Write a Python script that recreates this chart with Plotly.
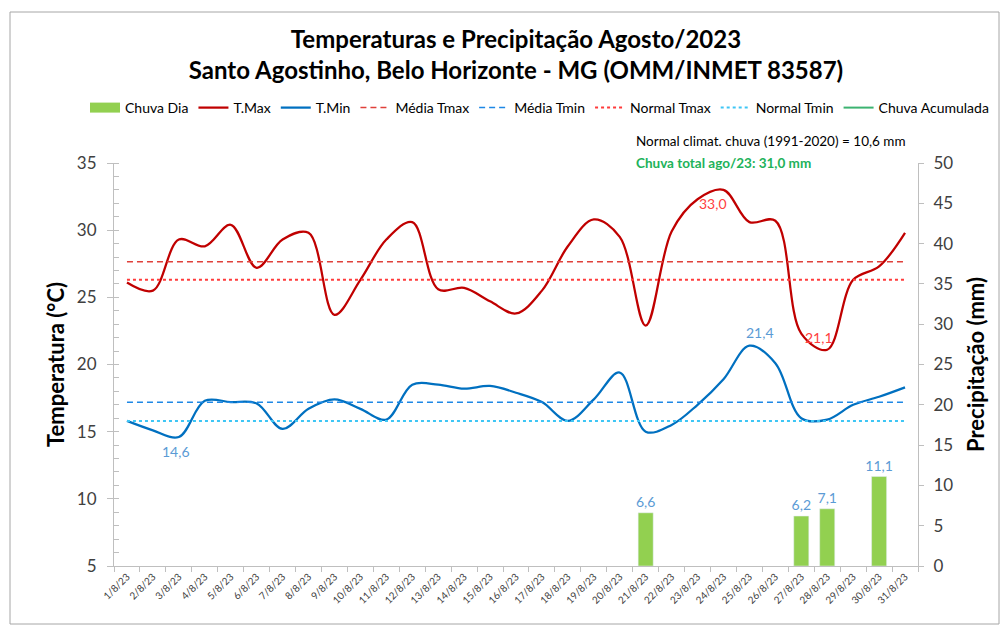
import plotly.graph_objects as go

days = [f"{d}/8/23" for d in range(1, 32)]
tmax = [26.1, 25.5, 29.3, 28.8, 30.4, 27.2, 29.3, 29.8, 23.7, 26.3, 29.3, 30.6, 25.6, 25.7, 24.7,
        23.8, 25.5, 28.8, 30.8, 29.5, 22.9, 29.9, 32.3, 33.0, 30.6, 30.7, 22.3, 21.1, 26.3, 27.3, 29.8]
tmin = [15.8, 15.1, 14.6, 17.3, 17.2, 17.1, 15.2, 16.7, 17.4, 16.7, 15.9, 18.5, 18.5, 18.2, 18.4,
        17.9, 17.2, 15.8, 17.4, 19.4, 15.0, 15.5, 17.0, 18.9, 21.4, 20.1, 16.0, 15.9, 17.0, 17.6, 18.3]
rain = [None] * 31
rain_days = {21: 6.6, 27: 6.2, 28: 7.1, 30: 11.1}
for d, v in rain_days.items():
    rain[d - 1] = v
normal_tmax = 26.3
normal_tmin = 15.8
normal_rain = 10.6

media_tmax = sum(tmax) / len(tmax)
media_tmin = sum(tmin) / len(tmin)
rain_total = sum(v for v in rain if v)

FONT = "Lato"
W, H = 1008, 637
L, R, T, B = 114, 918, 163, 566

def px(x):
    return (x - L) / (R - L)

def py(y):
    return (B - y) / (B - T)

def fmt(v):
    return f"{v:.1f}".replace(".", ",")

fig = go.Figure()
fig.add_trace(go.Bar(x=days, y=rain, name="Chuva Dia", yaxis="y2", marker_color="#92D050",
                     width=0.58, text=[fmt(v) if v else "" for v in rain],
                     textposition="outside", constraintext="none",
                     textfont=dict(color="#5B9BD5", size=14, family=FONT),
                     cliponaxis=False, showlegend=False))
# legend swatch for the bars (wide rectangle like the original)
fig.add_trace(go.Scatter(x=days, y=[None] * 31, name="Chuva Dia", mode="lines", yaxis="y2",
                         line=dict(color="#92D050", width=10)))
fig.add_trace(go.Scatter(x=days, y=tmax, name="T.Max", mode="lines",
                         line=dict(color="#C00000", width=2.25, shape="spline", smoothing=1)))
fig.add_trace(go.Scatter(x=days, y=tmin, name="T.Min", mode="lines",
                         line=dict(color="#0070C0", width=2.25, shape="spline", smoothing=1)))
fig.add_trace(go.Scatter(x=days, y=[media_tmax] * 31, name="Média Tmax", mode="lines",
                         line=dict(color="#E0403A", width=1.5, dash="6px,4px")))
fig.add_trace(go.Scatter(x=days, y=[media_tmin] * 31, name="Média Tmin", mode="lines",
                         line=dict(color="#1E88E5", width=1.5, dash="6px,4px")))
fig.add_trace(go.Scatter(x=days, y=[normal_tmax] * 31, name="Normal Tmax", mode="lines",
                         line=dict(color="#FF3B3B", width=2, dash="dot")))
fig.add_trace(go.Scatter(x=days, y=[normal_tmin] * 31, name="Normal Tmin", mode="lines",
                         line=dict(color="#3EC6F5", width=2, dash="dot")))
fig.add_trace(go.Scatter(x=days, y=[None] * 31, name="Chuva Acumulada", mode="lines", yaxis="y2",
                         line=dict(color="#3CB371", width=2)))

labels = [
    (days[2], tmin[2], "#5B9BD5", -3, -14),
    (days[23], tmax[23], "#FF4040", -10, -14),
    (days[27], tmax[27], "#FF4040", -8, 12),
    (days[24], tmin[24], "#5B9BD5", 11, 13),
]
for x, y, c, xs, ys in labels:
    fig.add_annotation(x=x, y=y, text=fmt(y), showarrow=False, xshift=xs, yshift=ys,
                       font=dict(color=c, size=14, family=FONT))

fig.add_annotation(xref="paper", yref="paper", x=px(634), y=py(141), xanchor="left", yanchor="middle",
                   text=f"Normal climat. chuva (1991-2020) = {fmt(normal_rain)} mm", showarrow=False,
                   font=dict(size=13.5, color="#000000", family=FONT))
fig.add_annotation(xref="paper", yref="paper", x=px(634), y=py(163), xanchor="left", yanchor="middle",
                   text=f"<b>Chuva total ago/23: {fmt(rain_total)} mm</b>", showarrow=False,
                   font=dict(size=13.5, color="#21B25A", family=FONT))

fig.add_shape(type="rect", xref="paper", yref="paper", x0=px(10), x1=px(999), y0=py(624), y1=py(12),
              line=dict(color="#A6A6A6", width=1), fillcolor="rgba(0,0,0,0)", layer="below")

axis_line = "#BFBFBF"
fig.update_layout(
    width=W, height=H,
    margin=dict(l=L, r=W - R, t=T, b=H - B, pad=0),
    paper_bgcolor="white", plot_bgcolor="white",
    font=dict(family=FONT, color="#404040"),
    title=dict(text="<b>Temperaturas e Precipitação Agosto/2023<br>Santo Agostinho, Belo Horizonte - MG (OMM/INMET 83587)</b>",
               x=0.5, xref="paper", xanchor="center", y=1 - 48 / H, yref="container", yanchor="middle",
               font=dict(size=24, color="#000000", family=FONT), automargin=False),
    legend=dict(orientation="h", x=px(85), y=py(108), xanchor="left", yanchor="middle",
                font=dict(size=14, color="#000000", family=FONT), bgcolor="rgba(0,0,0,0)",
                itemwidth=30, tracegroupgap=0),
    showlegend=True,
    xaxis=dict(type="category", showline=True, linecolor=axis_line, linewidth=1, ticks="outside",
               tickson="boundaries", ticklen=5, tickcolor=axis_line, tickangle=-45,
               tickfont=dict(size=10, color="#404040", family=FONT), showgrid=False, zeroline=False,
               range=[-0.5, 30.5], automargin=False),
    yaxis=dict(range=[5, 35], dtick=5, showline=True, linecolor=axis_line, linewidth=1,
               ticks="outside", ticklen=6, tickcolor=axis_line, showgrid=False, zeroline=False,
               minor=dict(dtick=1, ticks="inside", ticklen=5, tickcolor=axis_line),
               tickfont=dict(size=17, color="#404040", family=FONT), ticklabelstandoff=7,
               automargin=False,
               title=dict(text="<b>Temperatura (°C)</b>", standoff=6,
                          font=dict(size=22, color="#000000", family=FONT))),
    yaxis2=dict(range=[0, 50], dtick=5, overlaying="y", side="right", showline=True,
                linecolor=axis_line, linewidth=1, ticks="outside", ticklen=5, tickcolor=axis_line,
                showgrid=False, zeroline=False, automargin=False,
                tickfont=dict(size=17, color="#404040", family=FONT), ticklabelstandoff=6,
                title=dict(text="<b>Precipitação (mm)</b>", standoff=16,
                           font=dict(size=22, color="#000000", family=FONT))),
    bargap=0.42,
)

fig.write_html("out.html", config={"displayModeBar": False},
               post_script="document.body.style.margin='0';")
